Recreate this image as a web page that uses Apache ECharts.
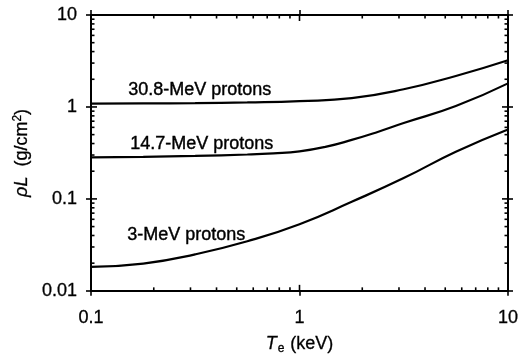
<!DOCTYPE html>
<html>
<head>
<meta charset="utf-8">
<script src="https://cdn.jsdelivr.net/npm/echarts@6/dist/echarts.min.js"></script>
<style>
  html, body { margin: 0; padding: 0; background: #fff; }
  #chart { width: 527px; height: 360px; }
</style>
</head>
<body>
<div id="chart"></div>
<script>
// Areal density ρL versus electron temperature for three proton energies
const teGrid = [0.1, 0.178, 0.316, 0.562, 1, 1.78, 3.16, 5.62, 10];
const rhoL308 = [1.088, 1.093, 1.101, 1.12, 1.157, 1.246, 1.556, 2.173, 3.226];
const rhoL3 = [0.01823, 0.01978, 0.02495, 0.03465, 0.05313, 0.0931, 0.1684, 0.3258, 0.5693];

const te147 = [0.1, 0.178, 0.316, 0.562, 0.75, 1, 1.33, 1.78, 2.37, 3.16, 5.62, 10];
const rhoL147 = [0.283, 0.2865, 0.2936, 0.304, 0.313, 0.329, 0.368, 0.438, 0.535, 0.668, 1.023, 1.805];

const curveNames = ['30.8-MeV protons', '14.7-MeV protons', '3-MeV protons'];

const xDecades = [0.1, 1, 10];
const yDecades = [0.01, 0.1, 1, 10];

const FONT = '"Liberation Sans", Arial, Helvetica, sans-serif';

function pairs(xs, ys) { return xs.map((x, i) => [x, ys[i]]); }

// tick values (major at decades, minor at 2..9 × decade) for the inward tick marks
function tickList(decades) {
  const out = [];
  decades.forEach((d, i) => {
    out.push({ v: d, major: true });
    if (i < decades.length - 1) {
      for (let k = 2; k <= 9; k++) out.push({ v: +(d * k).toPrecision(6), major: false });
    }
  });
  return out;
}
const xTicks = tickList(xDecades);
const yTicks = tickList(yDecades);

const X_MIN = xDecades[0], X_MAX = xDecades[xDecades.length - 1];
const Y_MIN = yDecades[0], Y_MAX = yDecades[yDecades.length - 1];

const tickData = []
  .concat(xTicks.map(t => [t.v, 1, 0, t.major ? 1 : 0]))
  .concat(yTicks.map(t => [1, t.v, 1, t.major ? 1 : 0]));

function renderTicks(params, api) {
  const v = [api.value(0), api.value(1)];
  const isY = api.value(2) === 1;
  const len = api.value(3) === 1 ? 6 : 3.5;
  const style = { stroke: '#000', lineWidth: 1.6 };
  if (!isY) {
    const b = api.coord([v[0], Y_MIN]);
    const t = api.coord([v[0], Y_MAX]);
    return { type: 'group', children: [
      { type: 'line', shape: { x1: b[0], y1: b[1], x2: b[0], y2: b[1] - len }, style },
      { type: 'line', shape: { x1: t[0], y1: t[1], x2: t[0], y2: t[1] + len }, style }
    ] };
  }
  const l = api.coord([X_MIN, v[1]]);
  const r = api.coord([X_MAX, v[1]]);
  return { type: 'group', children: [
    { type: 'line', shape: { x1: l[0], y1: l[1], x2: l[0] + len, y2: l[1] }, style },
    { type: 'line', shape: { x1: r[0], y1: r[1], x2: r[0] - len, y2: r[1] }, style }
  ] };
}

const axisLine = { show: true, onZero: false, lineStyle: { color: '#000', width: 2 } };
const outTick = { show: true, inside: false, length: 5, lineStyle: { color: '#000', width: 1.6 } };
const labelStyle = { color: '#000', fontFamily: FONT, fontSize: 18, textBorderColor: '#000', textBorderWidth: 0.3 };

const chart = echarts.init(document.getElementById('chart'), null, { renderer: 'canvas' });

chart.setOption({
  animation: false,
  backgroundColor: '#fff',
  grid: { left: 91, right: 19, top: 15, bottom: 66, containLabel: false },
  xAxis: [
    {
      type: 'log', logBase: 10, min: X_MIN, max: X_MAX, position: 'bottom',
      axisLine, axisTick: outTick, splitLine: { show: false },
      axisLabel: Object.assign({ margin: 18, formatter: v => String(v) }, labelStyle),
      name: '{i|T}{sub|e} (keV)', nameLocation: 'middle', nameGap: 43,
      nameTextStyle: Object.assign({
        rich: {
          i: Object.assign({ fontStyle: 'italic' }, labelStyle),
          sub: Object.assign({}, labelStyle, { fontSize: 12, verticalAlign: 'bottom', padding: [9, 1, 0, 1] })
        }
      }, labelStyle)
    },
    {
      type: 'log', logBase: 10, min: X_MIN, max: X_MAX, position: 'top',
      axisLine, axisTick: outTick, axisLabel: { show: false }, splitLine: { show: false }
    }
  ],
  yAxis: [
    {
      type: 'log', logBase: 10, min: Y_MIN, max: Y_MAX, position: 'left',
      axisLine, axisTick: outTick, splitLine: { show: false },
      axisLabel: Object.assign({ margin: 14, formatter: v => String(v) }, labelStyle),
      name: '{i|ρL}  (g/cm{sup|2})', nameLocation: 'middle', nameGap: 57, nameRotate: 90,
      nameTextStyle: Object.assign({
        rich: {
          i: Object.assign({ fontStyle: 'italic' }, labelStyle),
          sup: Object.assign({}, labelStyle, { fontSize: 12, verticalAlign: 'top', padding: [0, 0, 9, 0] })
        }
      }, labelStyle)
    },
    {
      type: 'log', logBase: 10, min: Y_MIN, max: Y_MAX, position: 'right',
      axisLine, axisTick: outTick, axisLabel: { show: false }, splitLine: { show: false }
    }
  ],
  series: [
    {
      type: 'custom', name: 'ticks', renderItem: renderTicks, data: tickData,
      encode: { x: 0, y: 1 }, clip: false, silent: true, z: 5
    },
    {
      type: 'line', name: curveNames[0], data: pairs(teGrid, rhoL308), smooth: 0.5,
      showSymbol: false, lineStyle: { color: '#000', width: 2.2 }, z: 4
    },
    {
      type: 'line', name: curveNames[1], data: pairs(te147, rhoL147), smooth: 0.5,
      showSymbol: false, lineStyle: { color: '#000', width: 2.2 }, z: 4
    },
    {
      type: 'line', name: curveNames[2], data: pairs(teGrid, rhoL3), smooth: 0.5,
      showSymbol: false, lineStyle: { color: '#000', width: 2.2 }, z: 4
    }
  ],
  graphic: [
    { type: 'text', left: 128, top: 81, style: { text: curveNames[0], fill: '#000', stroke: '#000', lineWidth: 0.4, font: '18px ' + FONT } },
    { type: 'text', left: 130, top: 135, style: { text: curveNames[1], fill: '#000', stroke: '#000', lineWidth: 0.4, font: '18px ' + FONT } },
    { type: 'text', left: 127, top: 226, style: { text: curveNames[2], fill: '#000', stroke: '#000', lineWidth: 0.4, font: '18px ' + FONT } }
  ]
});
</script>
</body>
</html>
